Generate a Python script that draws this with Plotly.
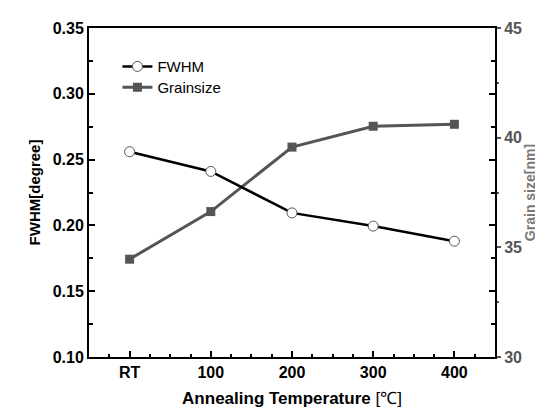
import plotly.graph_objects as go

categories = ["RT", "100", "200", "300", "400"]
fwhm = [0.256, 0.241, 0.2095, 0.1995, 0.188]
grain_size = [34.46, 36.63, 39.57, 40.52, 40.61]

xpos = list(range(len(categories)))
GRAY = "#555555"
FONT = "Liberation Sans, Arial, sans-serif"

fig = go.Figure()
fig.add_trace(go.Scatter(
    x=xpos, y=grain_size, name="Grainsize", mode="lines+markers", yaxis="y", legend="legend2",
    line=dict(color=GRAY, width=3),
    marker=dict(symbol="square", size=9, color=GRAY),
))
fig.add_trace(go.Scatter(
    x=xpos, y=fwhm, name="FWHM", mode="lines+markers", yaxis="y2", legend="legend",
    line=dict(color="black", width=2.5),
    marker=dict(symbol="circle", size=10, color="white",
                line=dict(color="#555555", width=1)),
))

half_vals = [i * 0.5 for i in range(-1, 2 * len(categories))]
half_text = ["<b>" + categories[int(v)] + "</b>" if v >= 0 and v == int(v) and int(v) < len(categories) else "" for v in half_vals]

leg_common = dict(xanchor="left", yanchor="middle", bgcolor="rgba(0,0,0,0)",
                  font=dict(size=15, family=FONT), itemwidth=30)

fig.update_layout(
    width=543, height=409,
    margin=dict(l=81, r=56, t=19, b=58),
    paper_bgcolor="white", plot_bgcolor="white",
    font=dict(family=FONT, color="black"),
    showlegend=True,
    legend=dict(x=0.07, y=0.8825, **leg_common),
    legend2=dict(x=0.07, y=0.819, **leg_common),
    xaxis=dict(
        range=[-0.5, 4.5], tickmode="array", tickvals=half_vals, ticktext=half_text,
        ticks="inside", ticklen=6, tickwidth=2, tickcolor="black",
        minor=dict(tickvals=[i * 0.25 for i in range(-1, 4 * len(categories))],
                   ticks="inside", ticklen=3),
        showline=True, linecolor="black", linewidth=2, mirror=True,
        showgrid=False, zeroline=False,
        tickfont=dict(size=16, family=FONT),
        title=dict(text="<b>Annealing Temperature</b> [℃]", font=dict(size=17, family=FONT), standoff=12),
    ),
    yaxis2=dict(
        range=[0.10, 0.35], dtick=0.05, tickformat=".2f", overlaying="y", side="left",
        tickprefix="<b>", ticksuffix="</b>",
        ticks="inside", ticklen=6, tickwidth=2, tickcolor="black",
        minor=dict(dtick=0.025, ticks="inside", ticklen=4),
        showline=True, linecolor="black", linewidth=2, mirror="ticks",
        showgrid=False, zeroline=False,
        tickfont=dict(size=16, family=FONT),
        title=dict(text="<b>FWHM[degree]</b>", font=dict(size=15, family=FONT), standoff=8),
    ),
    yaxis=dict(
        range=[30, 45], dtick=5, side="right",
        tickprefix="<b>", ticksuffix="</b>",
        ticks="outside", ticklen=4, tickwidth=1.5, tickcolor=GRAY,
        minor=dict(dtick=2.5, ticks="outside", ticklen=2),
        showline=True, linecolor="#333333", linewidth=2,
        showgrid=False, zeroline=False,
        tickfont=dict(size=16, family=FONT, color=GRAY),
        title=dict(text="<b>Grain size[nm]</b>", font=dict(size=14, family=FONT, color="#777777"), standoff=4),
    ),
)

fig.write_html("out.html")
